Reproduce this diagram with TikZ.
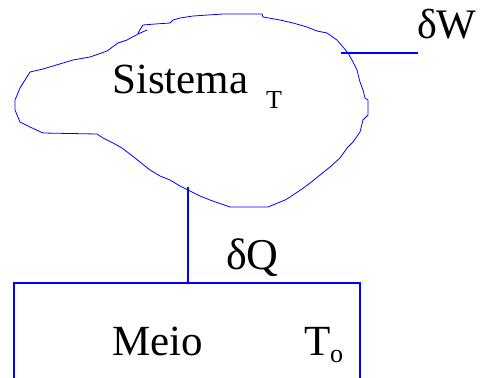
\documentclass[tikz,border=0pt]{standalone}
\usepackage{fontspec}
\setmainfont{Liberation Serif}
\usepackage{tikz}
\usetikzlibrary{positioning}

\begin{document}
\begin{tikzpicture}[x=1pt, y=-1pt,
    every node/.style={inner sep=0pt, anchor=base west, text=black},
    outline/.style={draw=blue, line width=0.8pt, line join=round},
    link/.style={draw=blue, line width=1.5pt},
    big/.style={font=\fontsize{43}{43}\selectfont},
    small/.style={font=\fontsize{26}{26}\selectfont}]
\useasboundingbox (0,0) rectangle (480,378);
% system boundary
\draw [outline] (147,30) -- (138,34) -- (127,40) -- (118,43) -- (107,51) -- (90,57)
  -- (73,60) -- (43,69) -- (30,72) -- (25,80) -- (20,88) -- (15,100) -- (15,110)
  -- (20,122) -- (30,127) -- (43,133) -- (97,134) -- (103,138) -- (113,143)
  -- (122,148) -- (135,158) -- (150,170) -- (160,176) -- (170,180) -- (180,186)
  -- (188,190) -- (200,196) -- (210,200) -- (230,207) -- (268,207) -- (285,200)
  -- (290,197) -- (302,189) -- (310,183) -- (320,175) -- (330,167) -- (340,158)
  -- (347,148) -- (353,142) -- (360,132) -- (363,120) -- (368,115) -- (368,100)
  -- (365,98) -- (363,90) -- (360,82) -- (357,70) -- (353,62) -- (348,53)
  -- (343,47) -- (337,40) -- (327,33) -- (317,31) -- (307,27) -- (293,23)
  -- (280,20) -- (263,17) -- (262,14) -- (223,14) -- (193,16) -- (180,18)
  -- (173,20) -- (170,23) -- (155,24) -- (143,25) -- (138,33);
\coordinate (wIn) at (341,53);
\coordinate (wOut) at (418,53);
\coordinate (qTop) at (188,187);
\coordinate (qBot) at (188,283);
% surroundings
\draw [link] (14,378) -- (14,283) -- (360,283) -- (360,378);
\draw [link] (wIn) -- (wOut);
\draw [link] (qTop) -- (qBot);
% labels
\node [big] (sistema) at (112,93) {Sistema};
\node [small] (tSys) at (266,108) {T};
\node [font=\fontsize{42}{42}\selectfont] (dW) at (417,38) {δW};
\node [font=\fontsize{44}{44}\selectfont] (dQ) at (226,269) {δQ};
\node [big] (meio) at (112,355) {Meio};
\node [big] (tMeio) at (304,355) {T};
\node [small] (oMeio) at (330,362) {o};
\end{tikzpicture}
\end{document}
